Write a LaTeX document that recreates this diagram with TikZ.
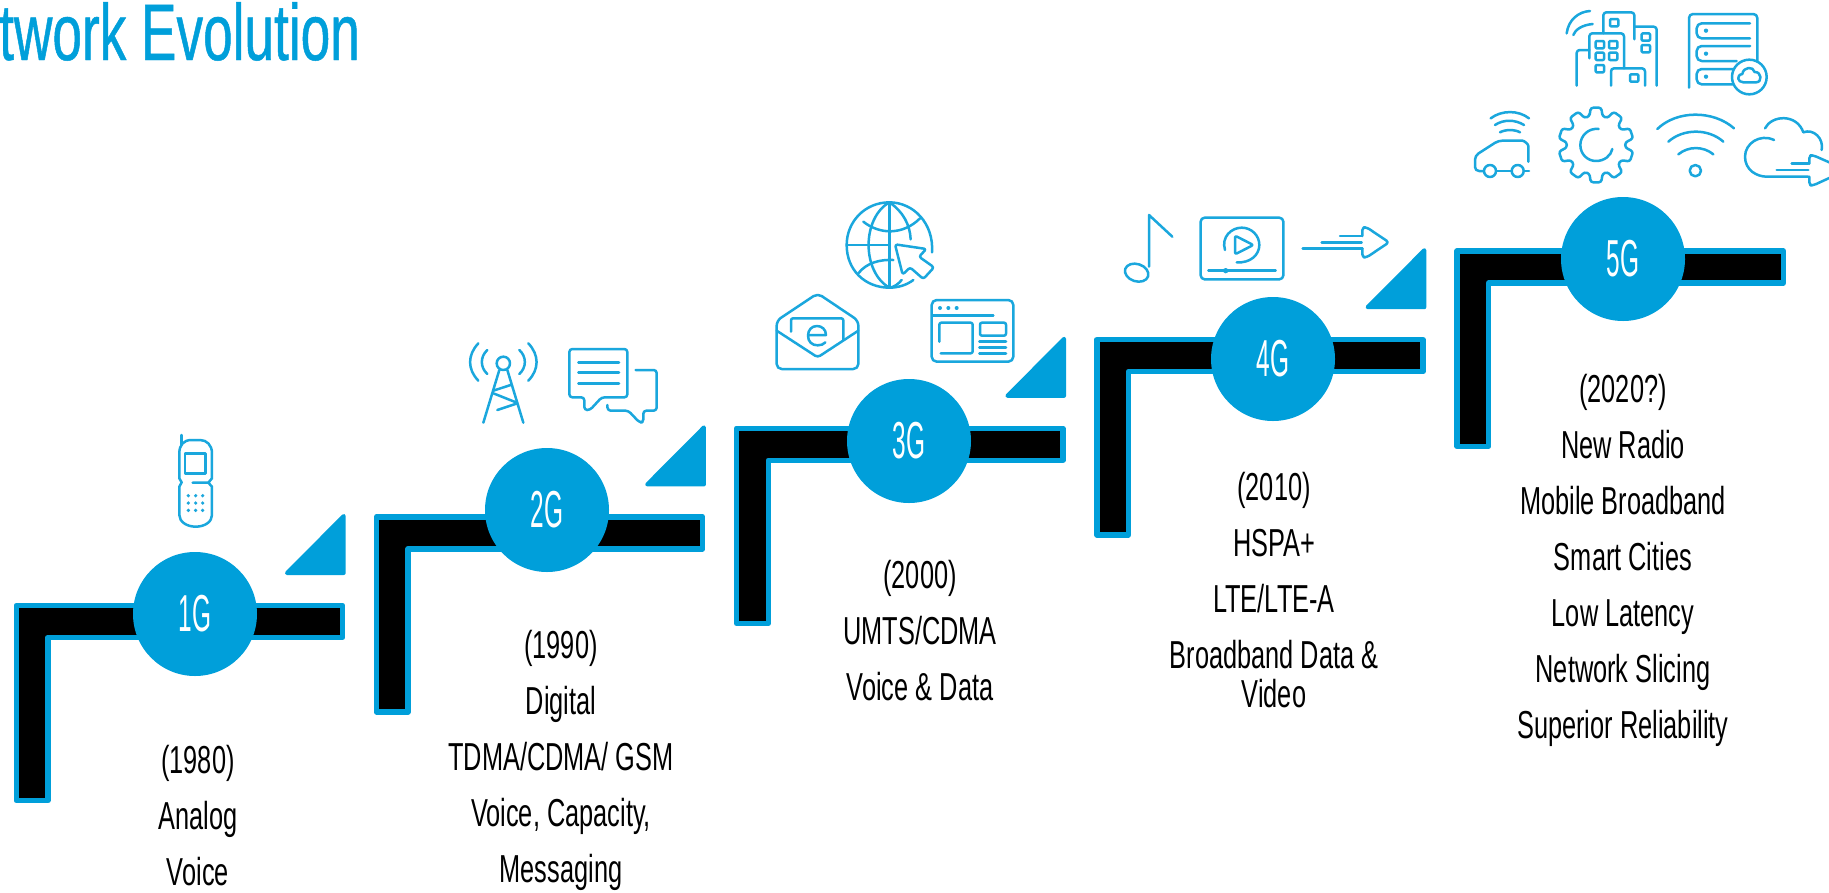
\documentclass[tikz,border=0pt]{standalone}
\usepackage{fontspec}
\setmainfont{Liberation Sans}
\newfontfamily\bodyfont[FakeStretch=0.65]{Liberation Sans}
\newfontfamily\genfont[FakeStretch=0.47]{Liberation Sans}
\newfontfamily\titlefont[FakeStretch=0.665,FakeBold=0.6]{Liberation Sans}
\definecolor{mainblue}{HTML}{009FDA}
\definecolor{iconblue}{HTML}{1AA7DD}
\tikzset{
  stepshape/.style={draw=mainblue,fill=black,line width=5.4pt,line join=round},
  wedge/.style={draw=mainblue,fill=mainblue,line width=4pt,line join=round},
  gencircle/.style={circle,fill=mainblue,minimum size=124pt,inner sep=0pt,text=white,font=\genfont\fontsize{52}{52}\selectfont},
  infotext/.style={anchor=north,align=center,inner sep=0pt,text=black,font=\bodyfont\fontsize{39}{56}\selectfont},
  ic/.style={draw=iconblue,line width=2.5pt,line cap=round,line join=round},
  icdot/.style={fill=iconblue},
  zoomA/.style={x=0.33333pt,y=-0.33333pt}
}
\begin{document}
\begin{tikzpicture}[x=1pt,y=-1pt]
\useasboundingbox (0,0) rectangle (1829,892);
\clip (0,0) rectangle (1829,892);
\fill[white] (0,0) rectangle (1829,892);

% title
\node[anchor=base west,inner sep=0pt,text=mainblue,font=\titlefont\fontsize{80}{80}\selectfont] (title) at (-1,60) {twork Evolution};

% steps and wedges
\foreach \i in {0,1,2,3,4}{
  \begin{scope}[shift={({\i*360.2},{-\i*88.6})}]
    \draw[stepshape] (16.2,605.4) -- (342.5,605.4) -- (342.5,637.4) -- (47.8,637.4) -- (47.8,800.6) -- (16.2,800.6) -- cycle;
    \ifnum\i<4
    \draw[wedge] (287,573) -- (343.7,573) -- (343.7,516) -- cycle;
    \fi
  \end{scope}
}

% circles
\node[gencircle] (g1) at (195,614) {1G};
\node[gencircle] (g2) at (547,510) {2G};
\node[gencircle] (g3) at (909,441) {3G};
\node[gencircle] (g4) at (1273,359) {4G};
\node[gencircle] (g5) at (1623,259) {5G};

% texts
\node[infotext] (t1) at (198,745) {(1980)\\Analog\\Voice};
\node[infotext] (t2) at (561,630) {(1990)\\Digital\\TDMA/CDMA/ GSM\\Voice, Capacity,\\Messaging};
\node[infotext] (t3) at (920,560) {(2000)\\UMTS/CDMA\\Voice \& Data};
\node[infotext] (t4) at (1274,472) {(2010)\\HSPA+\\LTE/LTE-A\\Broadband Data \&\\[-17pt]Video};
\node[infotext] (t5) at (1623,374) {(2020?)\\New Radio\\Mobile Broadband\\Smart Cities\\Low Latency\\Network Slicing\\Superior Reliability};

% phone
\begin{scope}[shift={(0,420)},zoomA]
  \draw[ic] (545,45) -- (545,75);
  \draw[ic] (578,188) -- (625,188) -- (636,175) -- (636,100) .. controls (636,75) and (620,60) .. (600,60) -- (575,60) .. controls (550,60) and (538,75) .. (538,100) -- (538,175) -- (545,187) -- (538,200) -- (538,285) .. controls (538,305) and (560,320) .. (587,320) .. controls (615,320) and (636,305) .. (636,285) -- (636,200) -- (625,188);
  \draw[ic] (555,100) rectangle (617,160);
  \foreach \px in {565,587,608}\foreach \py in {227,249,271}{\fill[icdot] (\px,\py) circle[radius=5.5];}
\end{scope}

% tower and chat
\begin{scope}[shift={(440,320)},zoomA]
  \draw[ic] (115,70) .. controls (82,105) and (82,148) .. (115,182);
  \draw[ic] (265,70) .. controls (298,105) and (298,148) .. (265,182);
  \draw[ic] (142,90) .. controls (120,110) and (120,142) .. (142,162);
  \draw[ic] (238,90) .. controls (260,110) and (260,142) .. (238,162);
  \draw[ic] (190,130) circle[radius=20];
  \draw[ic] (178,150) -- (130,308);
  \draw[ic] (202,150) -- (250,308);
  \draw[ic] (160,212) -- (212,195);
  \draw[ic] (160,220) -- (228,247);
  \draw[ic] (172,270) -- (232,250);
  \draw[ic,rounded corners=3pt] (388,87) -- (562,87) -- (562,232) -- (485,232) -- (450,270) -- (433,270) -- (433,232) -- (388,232) -- cycle;
  \draw[ic] (415,127) -- (537,127) (415,158) -- (537,158) (415,190) -- (537,190);
  \draw[ic,rounded corners=3pt] (587,150) -- (650,150) -- (650,272) -- (610,272) -- (610,307) -- (598,307) -- (565,272) -- (503,272) -- (502,255);
\end{scope}

% globe, envelope, browser
\begin{scope}[shift={(750,190)},zoomA]
  \draw[ic] (546,187) .. controls (552,100) and (490,37) .. (418,37) .. controls (345,37) and (290,95) .. (290,165) .. controls (290,240) and (345,293) .. (418,293) .. controls (445,293) and (470,285) .. (490,270);
  \draw[ic] (418,37) -- (418,293);
  \draw[ic] (290,165) -- (415,165);
  \draw[ic] (418,37) .. controls (335,85) and (335,245) .. (418,293);
  \draw[ic] (418,37) .. controls (460,65) and (480,105) .. (482,148);
  \draw[ic] (340,95) .. controls (390,135) and (460,135) .. (510,85);
  \draw[ic] (325,250) .. controls (350,218) and (390,208) .. (430,210);
  \draw[ic] (418,293) .. controls (432,292) and (445,282) .. (455,270);
  \draw[ic,rounded corners=2.5pt] (435,163) -- (529,177) -- (507,200) -- (552,232) -- (520,267) -- (480,232) -- (458,254) -- cycle;
  \draw[ic,rounded corners=5pt] (203,310) -- (325,392) -- (325,537) -- (80,537) -- (80,392) -- cycle;
  \draw[ic,rounded corners=3pt] (80,422) -- (203,502) -- (325,422);
  \draw[ic,rounded corners=2pt] (123,425) -- (123,385) -- (280,385) -- (280,450);
  \draw[ic] (174,435) -- (228,435) .. controls (228,418) and (215,408) .. (201,408) .. controls (185,408) and (174,420) .. (174,437) .. controls (174,455) and (186,466) .. (203,466) .. controls (213,466) and (221,463) .. (226,457);
  \draw[ic,rounded corners=5pt] (545,330) rectangle (790,515);
  \foreach \px in {570,595,620}{\fill[icdot] (\px,354) circle[radius=6];}
  \draw[ic] (548,377) -- (730,377);
  \draw[ic,rounded corners=2pt] (568,455) -- (568,398) -- (668,398) -- (668,490) -- (572,490);
  \draw[ic,rounded corners=2pt] (690,398) rectangle (768,437);
  \draw[ic] (688,455) -- (768,455) (688,472) -- (768,472) (688,490) -- (768,490);
\end{scope}

% note, video, arrow
\begin{scope}[shift={(1110,200)},zoomA]
  \draw[ic,rotate around={-18:(80,218)}] (80,218) ellipse[x radius=36,y radius=26];
  \draw[ic] (117,200) -- (117,45) -- (187,110);
  \draw[ic,rounded corners=4pt] (272,53) rectangle (520,238);
  \draw[ic] (345,150) .. controls (333,110) and (365,83) .. (395,83) .. controls (425,83) and (448,107) .. (448,135) .. controls (448,165) and (420,190) .. (380,187);
  \draw[ic,rounded corners=2pt] (375,107) -- (430,135) -- (375,163) -- cycle;
  \draw[ic] (295,212) -- (497,212);
  \fill[icdot] (347,212) circle[radius=8];
  \draw[ic] (578,145) -- (757,145) (635,127) -- (755,127) (690,108) -- (755,108);
  \draw[ic,rounded corners=3pt] (757,108) -- (757,82) -- (770,82) -- (837,127) -- (770,172) -- (757,172) -- (757,145);
\end{scope}

% 5G icons
\begin{scope}[shift={(1450,0)},zoomA]
  % city
  \draw[ic] (350,100) .. controls (355,60) and (385,35) .. (420,33);
  \draw[ic] (370,105) .. controls (375,90) and (395,75) .. (428,72);
  \draw[ic,rounded corners=3pt] (460,100) -- (460,37) -- (553,37) -- (553,118);
  \draw[ic,rounded corners=3pt] (553,80) -- (620,80) -- (620,257);
  \draw[ic,rounded corners=3pt] (418,175) -- (418,100) -- (522,100) -- (522,205);
  \draw[ic,rounded corners=3pt] (380,257) -- (380,150) -- (418,150);
  \draw[ic,rounded corners=3pt] (483,257) -- (483,205) -- (585,205) -- (585,257);
  \foreach \wx/\wy in {480/57,575/100,575/135,437/123,477/123,437/158,477/158,437/195,540/223}{
    \draw[ic,rounded corners=1pt] (\wx,\wy) rectangle ++(25,22);
  }
  % server
  \draw[ic,rounded corners=4pt] (717,263) -- (717,42) -- (922,42) -- (922,185);
  \draw[ic,rounded corners=5pt] (900,70) -- (740,70) -- (740,115) -- (900,115);
  \draw[ic,rounded corners=5pt] (900,138) -- (740,138) -- (740,183) -- (860,183);
  \draw[ic,rounded corners=5pt] (850,207) -- (740,207) -- (740,253) -- (850,253);
  \foreach \sy in {92,161,230}{\fill[icdot] (768,\sy) circle[radius=6.5];}
  \draw[ic] (898,231) circle[radius=52];
  \draw[ic] (880,247) .. controls (862,247) and (858,225) .. (877,222) .. controls (880,200) and (910,198) .. (914,216) .. controls (935,215) and (938,247) .. (918,247) -- cycle;
  % car
  \draw[ic] (122,355) .. controls (155,330) and (205,330) .. (237,355);
  \draw[ic] (135,375) .. controls (160,358) and (195,358) .. (222,375);
  \draw[ic] (150,397) .. controls (165,388) and (195,388) .. (210,397);
  \draw[ic,rounded corners=4pt] (235,485) -- (235,450) .. controls (235,432) and (222,422) .. (205,422) -- (145,422) -- (75,467) -- (75,513) -- (100,513);
  \draw[ic] (138,513) -- (185,513) (221,513) -- (237,513);
  \draw[ic] (120,513) circle[radius=18];
  \draw[ic] (203,513) circle[radius=18];
  % gear
  \begin{scope}[shift={(438,435)}]
    \draw[ic,rounded corners=2.5pt] (-103:88)
      \foreach \a in {-90,-54,-18,18,54,90,126,162,198,234}{
        -- (\a-13:88) -- (\a-8:113) -- (\a+8:113) -- (\a+13:88)
      } -- cycle;
    \draw[ic] (8,-48) .. controls (-22,-52) and (-47,-28) .. (-47,0) .. controls (-47,28) and (-25,48) .. (0,48) .. controls (25,48) and (45,32) .. (49,12);
  \end{scope}
  % wifi
  \draw[ic] (622,387) .. controls (680,330) and (790,330) .. (852,385);
  \draw[ic] (655,425) .. controls (700,385) and (775,385) .. (820,425);
  \draw[ic] (685,463) .. controls (715,438) and (760,438) .. (790,463);
  \draw[ic] (736,512) circle[radius=17];
  % cloud
  \draw[ic] (945,385) .. controls (965,345) and (1040,340) .. (1060,397) .. controls (1090,385) and (1122,415) .. (1115,450);
  \draw[ic] (972,420) .. controls (930,400) and (885,430) .. (885,470) .. controls (885,510) and (920,530) .. (950,530) -- (1075,530);
  \draw[ic] (980,510) -- (1075,510) (1025,491) -- (1075,491);
  \draw[ic,rounded corners=3pt] (1078,491) -- (1078,466) -- (1090,466) -- (1190,510) -- (1090,556) -- (1078,556) -- (1078,530);
\end{scope}
\end{tikzpicture}
\end{document}
